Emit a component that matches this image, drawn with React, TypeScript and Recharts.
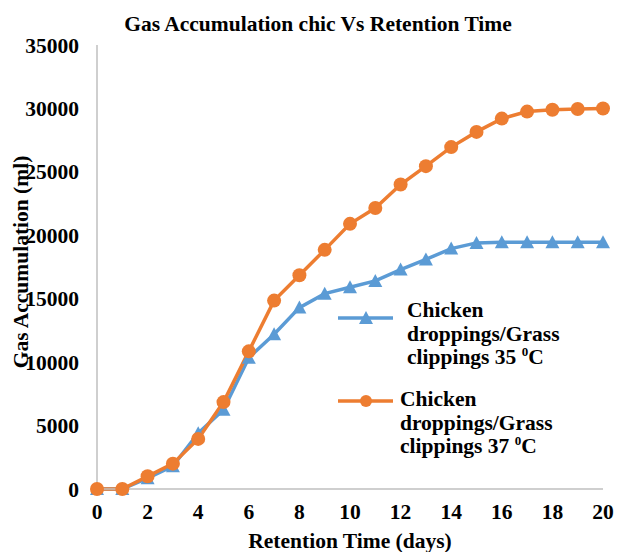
import { LineChart, Line, XAxis, YAxis, Legend, Label } from 'recharts'

const days = [0, 1, 2, 3, 4, 5, 6, 7, 8, 9, 10, 11, 12, 13, 14, 15, 16, 17, 18, 19, 20]
const gas35 = [0, 0, 850, 1800, 4400, 6250, 10350, 12200, 14300, 15400, 15900, 16400, 17300, 18100, 18950, 19400, 19450, 19450, 19450, 19450, 19450]
const gas37 = [0, 0, 1000, 2000, 3950, 6850, 10850, 14850, 16850, 18850, 20900, 22150, 24000, 25450, 26950, 28150, 29200, 29750, 29900, 29950, 30000]
const xTicks = [0, 2, 4, 6, 8, 10, 12, 14, 16, 18, 20]
const yTicks = [0, 5000, 10000, 15000, 20000, 25000, 30000, 35000]

const BLUE = '#5B9BD5'
const ORANGE = '#ED7D31'
const FONT = 'Liberation Serif'
const FS = 21.5

const data = days.map((d, i) => ({ day: d, c35: gas35[i], c37: gas37[i] }))

const Triangle = (props: any) => {
  const { cx, cy, fill } = props
  if (cx == null || cy == null) return null
  return <polygon points={`${cx},${cy - 7} ${cx - 7},${cy + 6} ${cx + 7},${cy + 6}`} fill={fill} />
}

const Circle = (props: any) => {
  const { cx, cy, fill } = props
  if (cx == null || cy == null) return null
  return <circle cx={cx} cy={cy} r={7} fill={fill} />
}

const tickStyle = { fontFamily: FONT, fontSize: FS, fontWeight: 'bold', fill: '#000' }

const Deg = () => <span style={{ fontSize: 13, position: 'relative', top: -8 }}>0</span>

function LegendBox() {
  const text = { fontFamily: FONT, fontSize: FS, fontWeight: 'bold' as const, lineHeight: '23.5px', color: '#000' }
  return (
    <div style={{ position: 'relative', width: 270, height: 170 }}>
      <svg style={{ position: 'absolute', left: 0, top: 14 }} width={56} height={16}>
        <line x1={0} y1={8} x2={55} y2={8} stroke={BLUE} strokeWidth={3.5} />
        <Triangle cx={28} cy={8} fill={BLUE} />
      </svg>
      <div style={{ ...text, position: 'absolute', left: 69, top: 3 }}>
        Chicken<br />droppings/Grass<br />clippings 35 <Deg />C
      </div>
      <svg style={{ position: 'absolute', left: 0, top: 97 }} width={56} height={16}>
        <line x1={0} y1={8} x2={55} y2={8} stroke={ORANGE} strokeWidth={3.5} />
        <circle cx={28} cy={8} r={6} fill={ORANGE} />
      </svg>
      <div style={{ ...text, position: 'absolute', left: 62, top: 92 }}>
        Chicken<br />droppings/Grass<br />clippings 37 <Deg />C
      </div>
    </div>
  )
}

export default function App() {
  return (
    <div style={{ position: 'absolute', left: 0, top: 0, width: 618, height: 552, background: '#fff' }}>
      <div style={{ position: 'absolute', left: 0, top: 12, width: 636, textAlign: 'center', fontFamily: FONT, fontSize: FS, fontWeight: 'bold' }}>
        Gas Accumulation chic Vs Retention Time
      </div>
      <LineChart width={618} height={552} data={data} margin={{ top: 45, right: 15, bottom: 0, left: 0 }}>
        <XAxis
          dataKey="day"
          type="number"
          domain={[0, 20]}
          ticks={xTicks}
          tickLine={false}
          tickSize={0}
          tickMargin={15}
          height={63}
          stroke="#BFBFBF"
          strokeWidth={1.5}
          tick={tickStyle}
          interval={0}
        >
          <Label
            content={() => (
              <text x={350} y={541} textAnchor="middle" dominantBaseline="central" fontFamily={FONT} fontSize={FS} fontWeight="bold">
                Retention Time (days)
              </text>
            )}
          />
        </XAxis>
        <YAxis
          type="number"
          domain={[0, 35000]}
          ticks={yTicks}
          width={97}
          tickLine={false}
          tickSize={0}
          tickMargin={18}
          stroke="#BFBFBF"
          strokeWidth={1.5}
          tick={tickStyle}
          interval={0}
        >
          <Label
            content={() => (
              <text x={21} y={262} transform="rotate(-90, 21, 262)" textAnchor="middle" dominantBaseline="central" fontFamily={FONT} fontSize={FS} fontWeight="bold">
                Gas Accumulation (ml)
              </text>
            )}
          />
        </YAxis>
        <Legend
          align="center"
          verticalAlign="middle"
          wrapperStyle={{ left: 338, top: 296, width: 270 }}
          content={() => <LegendBox />}
        />
        <Line dataKey="c35" name="Chicken droppings/Grass clippings 35 0C" stroke={BLUE} strokeWidth={3.5} dot={<Triangle fill={BLUE} />} isAnimationActive={false} />
        <Line dataKey="c37" name="Chicken droppings/Grass clippings 37 0C" stroke={ORANGE} strokeWidth={3.5} dot={<Circle fill={ORANGE} />} isAnimationActive={false} />
      </LineChart>
    </div>
  )
}
